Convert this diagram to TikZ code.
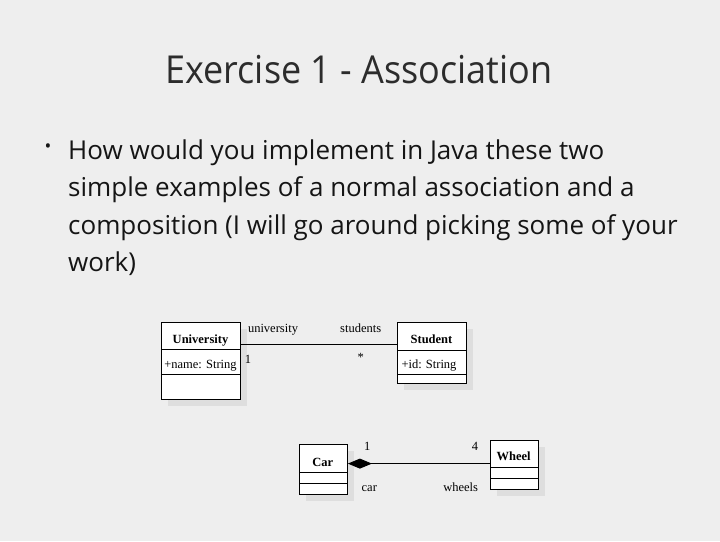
\documentclass[tikz,border=0pt]{standalone}
\usepackage{fontspec}
\setmainfont{Liberation Serif}
\newfontfamily\slidefont{Open Sans}
\usetikzlibrary{arrows.meta,calc}
\definecolor{bg}{HTML}{EEEEEE}
\definecolor{shadowgray}{HTML}{DEDEDE}
\definecolor{ink}{HTML}{151515}
\tikzset{
  comp/.style={draw=black, fill=white, line width=0.9pt, inner sep=0pt, anchor=north west, font=\fontsize{12.5}{14}\selectfont},
  lbl/.style={anchor=base, inner sep=0pt, font=\fontsize{12.5}{14}\selectfont},
  bodyline/.style={anchor=base west, inner sep=0pt, text=ink, font=\slidefont\fontsize{26}{30}\selectfont},
  assoc/.style={draw=black, line width=0.9pt},
  compo/.style={draw=black, line width=0.9pt, {Diamond[length=24pt,width=10pt]}-}
}
\begin{document}
\begin{tikzpicture}[x=1pt,y=-1pt]
\fill[bg] (0,0) rectangle (720,541);
\useasboundingbox (0,0) rectangle (720,541);
% title
\node[anchor=base, inner sep=0pt, text=ink!90, font=\slidefont\fontsize{38.5}{44}\selectfont] (title) at (359,83.5) {\scalebox{0.935}[1]{Exercise 1 - Association}};
% bullet
\node[inner sep=0pt, text=ink, font=\slidefont\fontsize{18}{20}\selectfont] (bullet) at (48,148.5) {•};
\node[bodyline] (l1) at (68,159) {How would you implement in Java these two};
\node[bodyline] (l2) at (68,196.5) {simple examples of a normal association and a};
\node[bodyline] (l3) at (68,234) {composition (I will go around picking some of your};
\node[bodyline] (l4) at (68,271.5) {work)};
% shadows
\fill[shadowgray] (168,328.5) rectangle (247,406);
\fill[shadowgray] (404,328.5) rectangle (473,390);
\fill[shadowgray] (305.5,451) rectangle (354,500.5);
\fill[shadowgray] (496.5,447) rectangle (545,496);
% University
\node[comp, minimum width=79pt, minimum height=27.5pt] (uniH) at (161,321.5) {};
\node[comp, minimum width=79pt, minimum height=25pt] (uniA) at (161,349) {};
\node[comp, minimum width=79pt, minimum height=25pt] (uniO) at (161,374) {};
\node[lbl, font=\fontsize{12.5}{14}\selectfont\bfseries] (uniT) at (200.5,343.3) {University};
\node[lbl] (uniAt) at (200.5,368) {+name: String};
% Student
\node[comp, minimum width=69pt, minimum height=28pt] (stuH) at (397,321.5) {};
\node[comp, minimum width=69pt, minimum height=24.5pt] (stuA) at (397,349.5) {};
\node[comp, minimum width=69pt, minimum height=9pt] (stuO) at (397,374) {};
\node[lbl, font=\fontsize{12.5}{14}\selectfont\bfseries] (stuT) at (431.5,343.3) {Student};
\node[lbl] (stuAt) at (429,368) {+id: String};
% association
\draw[assoc] ([yshift=5pt]uniH.south east) -- ([yshift=5.5pt]stuH.south west);
\node[lbl] (rUni) at (273,332) {university};
\node[lbl] (rStu) at (360.7,332) {students};
\node[lbl] (mUni) at (248,363) {1};
\node[lbl] (mStu) at (360.7,361.5) {*};
% Car
\node[comp, minimum width=48.5pt, minimum height=27.7pt] (carH) at (298.5,444) {};
\node[comp, minimum width=48.5pt, minimum height=11.6pt] (carA) at (298.5,471.7) {};
\node[comp, minimum width=48.5pt, minimum height=10.2pt] (carO) at (298.5,483.3) {};
\node[lbl, font=\fontsize{12.5}{14}\selectfont\bfseries] (carT) at (322.7,466) {Car};
% Wheel
\node[comp, minimum width=48.5pt, minimum height=27.3pt] (whH) at (489.5,440) {};
\node[comp, minimum width=48.5pt, minimum height=11pt] (whA) at (489.5,467.3) {};
\node[comp, minimum width=48.5pt, minimum height=10.7pt] (whO) at (489.5,478.3) {};
\node[lbl, font=\fontsize{12.5}{14}\selectfont\bfseries] (whT) at (513.7,460.7) {Wheel};
% composition
\coordinate (carpt) at ([yshift=9pt]carH.south east);
\draw[compo] (carpt) -- (carpt -| whH.west);
\node[lbl] (mCar) at (367.3,450) {1};
\node[lbl] (mWh) at (475,450) {4};
\node[lbl] (rCar) at (369.3,491.5) {car};
\node[lbl] (rWh) at (460.7,491.5) {wheels};
\end{tikzpicture}
\end{document}
